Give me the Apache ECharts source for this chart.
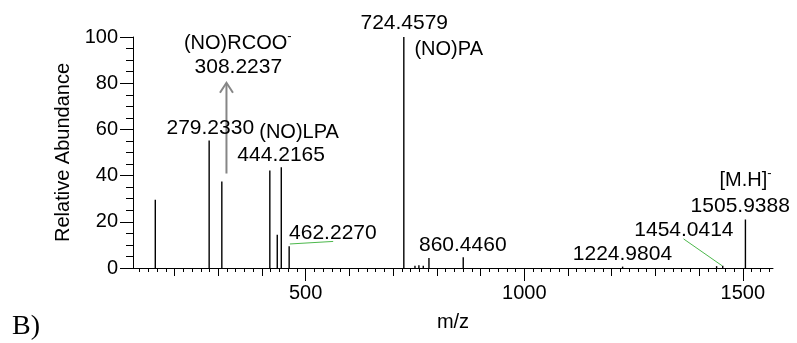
<!DOCTYPE html>
<html>
<head>
<meta charset="utf-8">
<script src="https://cdn.jsdelivr.net/npm/echarts@6/dist/echarts.min.js"></script>
<style>
html,body{margin:0;padding:0;background:#fff;}
#chart{width:797px;height:343px;}
</style>
</head>
<body>
<div id="chart"></div>
<script>
// ---- data ----
const peakMz        = [156, 279.2, 308.2, 418, 435, 444.2, 462.2, 724.5, 750, 759, 769, 782, 860.4, 1225, 1440, 1454, 1505.9];
const peakAbundance = [29.5, 55.2, 37.4, 42.2, 14.4, 43.6, 9.4, 100, 1.0, 1.2, 1.0, 4.3, 4.7, 0.6, 0.8, 1.0, 21];

const labelTexts     = ['{b|(NO)RCOO}{s|-}', '308.2237', '279.2330', '(NO)LPA', '444.2165', '462.2270', '724.4579', '(NO)PA', '860.4460', '1224.9804', '1454.0414', '1505.9388', '{b|[M.H]}{s|-}'];
const labelMz        = [344.7, 345.9, 281.8, 484.9, 443.9, 562.2, 725.5, 827.2, 859.4, 1224.6, 1365.2, 1494.1, 1506.3];
const labelAbundance = [97.3, 86.9, 60.7, 58.7, 48.8, 14.9, 105.9, 94.7, 9.8, 5.8, 16.2, 26.7, 38.0];

const leaderFrom = [[463.8, 10.4], [1364.4, 12.6]];
const leaderTo   = [[562.9, 11.5], [1452.4, 1.0]];

const arrowFrom = [318.8, 40.9];
const arrowTo   = [318.8, 80.2];

const X_MIN = 105, X_MAX = 1569;
const xMajorTicks = [500, 1000, 1500];
const xHundredTicks = [200, 300, 400, 500, 600, 700, 800, 900, 1000, 1100, 1200, 1300, 1400, 1500];
const xMinorTicks = [];
for (let v = 120; v <= 1560; v += 20) xMinorTicks.push(v);
const yTickInterval = 20;

// ---- chart ----
const FONT = 'Liberation Sans';
const chart = echarts.init(document.getElementById('chart'), null, {renderer: 'canvas'});

const baseX = {
  type: 'value', min: X_MIN, max: X_MAX, position: 'bottom',
  splitLine: {show: false},
  axisLabel: {show: false},
  axisLine: {show: false, onZero: false, lineStyle: {color: '#000', width: 1}},
};

const option = {
  animation: false,
  backgroundColor: '#fff',
  grid: {left: 133, right: 24, top: 37, bottom: 75, containLabel: false},
  xAxis: [
    Object.assign({}, baseX, {
      axisLine: {show: true, onZero: false, lineStyle: {color: '#000', width: 1}},
      axisTick: {show: true, length: 4, customValues: xMinorTicks, lineStyle: {color: '#000', width: 1}}
    }),
    Object.assign({}, baseX, {
      axisTick: {show: true, length: 8, customValues: xHundredTicks, lineStyle: {color: '#000', width: 1}}
    }),
    Object.assign({}, baseX, {
      axisTick: {show: true, length: 13, customValues: xMajorTicks, lineStyle: {color: '#000', width: 1}},
      axisLabel: {show: true, customValues: xMajorTicks, fontSize: 20, fontFamily: FONT, color: '#000', margin: 15,
                  formatter: function (v) { return String(v); }},
      name: 'm/z', nameLocation: 'middle', nameGap: 44,
      nameTextStyle: {fontSize: 20, fontFamily: FONT, color: '#000'}
    })
  ],
  yAxis: {
    type: 'value', min: 0, max: 100, interval: yTickInterval,
    splitLine: {show: false},
    axisLine: {show: true, lineStyle: {color: '#000', width: 1}},
    axisTick: {show: true, length: 13, lineStyle: {color: '#000', width: 1}},
    minorTick: {show: true, splitNumber: 4, length: 7, lineStyle: {color: '#000', width: 1}},
    axisLabel: {fontSize: 20, fontFamily: FONT, color: '#000', margin: 15},
    name: 'Relative Abundance', nameLocation: 'middle', nameGap: 52, nameRotate: 90,
    nameTextStyle: {fontSize: 20, fontFamily: FONT, color: '#000'}
  },
  graphic: [{
    type: 'text', left: 12, top: 313,
    style: {text: 'B)', font: '28px "Liberation Serif"', fill: '#000'}
  }],
  series: [
    {
      type: 'custom', name: 'peaks', xAxisIndex: 0, yAxisIndex: 0,
      data: peakMz.map((m, i) => [m, peakAbundance[i]]),
      encode: {x: 0, y: 1},
      renderItem: function (params, api) {
        const p0 = api.coord([api.value(0), 0]);
        const p1 = api.coord([api.value(0), api.value(1)]);
        return {type: 'line', shape: {x1: p0[0], y1: p0[1], x2: p1[0], y2: p1[1]},
                style: {stroke: '#000', lineWidth: 1.4}};
      },
      z: 3
    },
    {
      type: 'custom', name: 'leaders', xAxisIndex: 0, yAxisIndex: 0,
      data: leaderFrom.map((f, i) => [f[0], f[1], leaderTo[i][0], leaderTo[i][1]]),
      encode: {x: [0, 2], y: [1, 3]},
      renderItem: function (params, api) {
        const a = api.coord([api.value(0), api.value(1)]);
        const b = api.coord([api.value(2), api.value(3)]);
        return {type: 'line', shape: {x1: a[0], y1: a[1], x2: b[0], y2: b[1]},
                style: {stroke: '#4cb84c', lineWidth: 1}};
      },
      z: 4
    },
    {
      type: 'custom', name: 'arrow', xAxisIndex: 0, yAxisIndex: 0,
      data: [[arrowFrom[0], arrowFrom[1], arrowTo[0], arrowTo[1]]],
      encode: {x: [0, 2], y: [1, 3]},
      renderItem: function (params, api) {
        const a = api.coord([api.value(0), api.value(1)]);
        const b = api.coord([api.value(2), api.value(3)]);
        return {type: 'group', children: [
          {type: 'line', shape: {x1: a[0], y1: a[1], x2: b[0], y2: b[1] + 1},
           style: {stroke: '#868686', lineWidth: 2}},
          {type: 'polyline', shape: {points: [[b[0] - 6.5, b[1] + 10], [b[0], b[1]], [b[0] + 6.5, b[1] + 10]]},
           style: {stroke: '#868686', lineWidth: 2, fill: null}}
        ]};
      },
      z: 5
    },
    {
      type: 'custom', name: 'labels', xAxisIndex: 0, yAxisIndex: 0, clip: false,
      data: labelMz.map((m, i) => [m, labelAbundance[i]]),
      encode: {x: 0, y: 1},
      renderItem: function (params, api) {
        const p = api.coord([api.value(0), api.value(1)]);
        const txt = labelTexts[params.dataIndex];
        const numeric = /^[0-9.]+$/.test(txt);
        return {type: 'text', x: p[0], y: p[1],
          style: {
            text: txt, align: 'center', verticalAlign: 'middle',
            fontSize: numeric ? 21 : 20, fontFamily: FONT, fill: '#000',
            rich: {
              b: {fontSize: 20, fontFamily: FONT, lineHeight: 26, fill: '#000', color: '#000'},
              s: {fontSize: 13, fontFamily: FONT, lineHeight: 12, verticalAlign: 'top', fill: '#000', color: '#000'}
            }
          }};
      },
      z: 6
    }
  ]
};
chart.setOption(option);
</script>
</body>
</html>
